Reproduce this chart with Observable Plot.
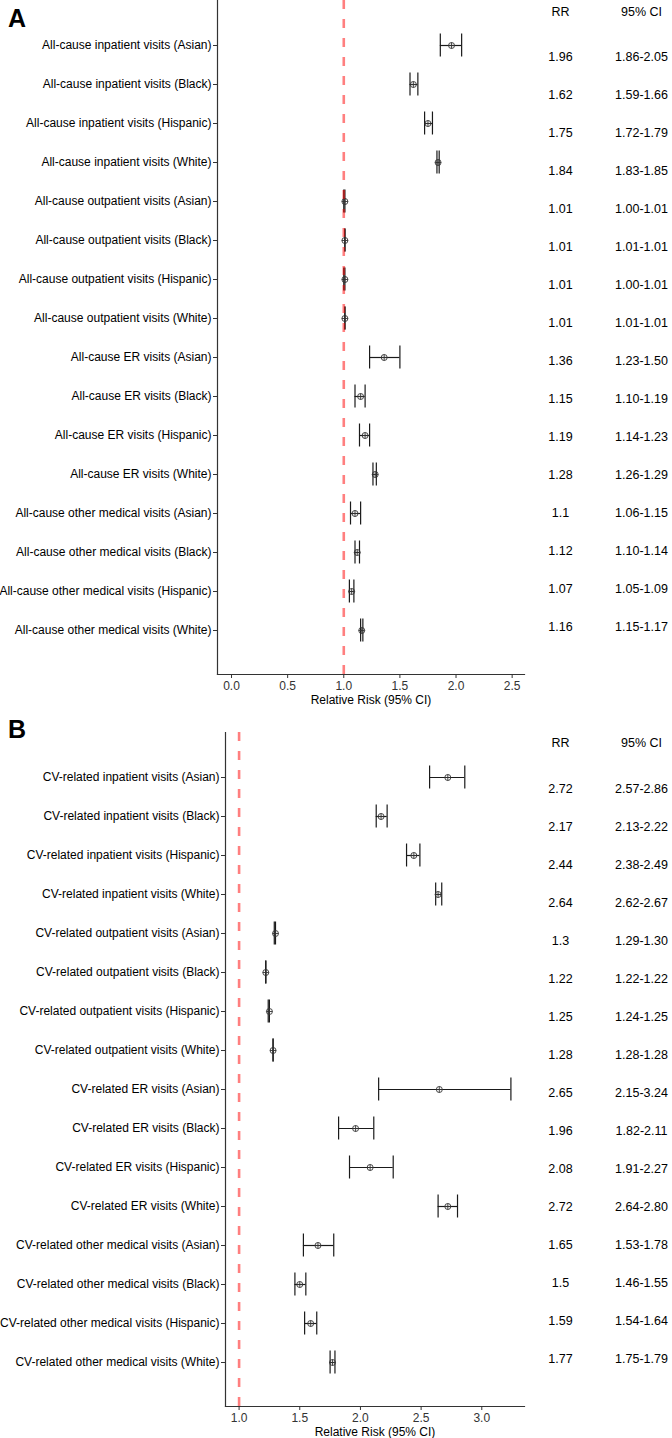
<!DOCTYPE html>
<html><head><meta charset="utf-8">
<script src="https://cdn.jsdelivr.net/npm/d3@7"></script>
<script src="https://cdn.jsdelivr.net/npm/@observablehq/plot@0.6"></script>
<style>
body{margin:0;background:#fff;}
#root{position:relative;width:672px;height:1438px;font-family:"Liberation Sans",Arial,sans-serif;}
.abs{position:absolute;}
.tag{position:absolute;font-weight:bold;font-size:25px;line-height:25px;color:#000;}
</style></head><body><div id="root"></div>
<script>
const FONT = '"Liberation Sans", Arial, sans-serif';

// Panel A data
const labelsA = [
  "All-cause inpatient visits (Asian)", "All-cause inpatient visits (Black)",
  "All-cause inpatient visits (Hispanic)", "All-cause inpatient visits (White)",
  "All-cause outpatient visits (Asian)", "All-cause outpatient visits (Black)",
  "All-cause outpatient visits (Hispanic)", "All-cause outpatient visits (White)",
  "All-cause ER visits (Asian)", "All-cause ER visits (Black)",
  "All-cause ER visits (Hispanic)", "All-cause ER visits (White)",
  "All-cause other medical visits (Asian)", "All-cause other medical visits (Black)",
  "All-cause other medical visits (Hispanic)", "All-cause other medical visits (White)"
];
const rrA = [1.96, 1.62, 1.75, 1.84, 1.01, 1.01, 1.01, 1.01, 1.36, 1.15, 1.19, 1.28, 1.1, 1.12, 1.07, 1.16];
const loA = [1.86, 1.59, 1.72, 1.83, 1.00, 1.01, 1.00, 1.01, 1.23, 1.10, 1.14, 1.26, 1.06, 1.10, 1.05, 1.15];
const hiA = [2.05, 1.66, 1.79, 1.85, 1.01, 1.01, 1.01, 1.01, 1.50, 1.19, 1.23, 1.29, 1.15, 1.14, 1.09, 1.17];
const ticksA = [0, 0.5, 1, 1.5, 2, 2.5];

// Panel B data
const labelsB = [
  "CV-related inpatient visits (Asian)", "CV-related inpatient visits (Black)",
  "CV-related inpatient visits (Hispanic)", "CV-related inpatient visits (White)",
  "CV-related outpatient visits (Asian)", "CV-related outpatient visits (Black)",
  "CV-related outpatient visits (Hispanic)", "CV-related outpatient visits (White)",
  "CV-related ER visits (Asian)", "CV-related ER visits (Black)",
  "CV-related ER visits (Hispanic)", "CV-related ER visits (White)",
  "CV-related other medical visits (Asian)", "CV-related other medical visits (Black)",
  "CV-related other medical visits (Hispanic)", "CV-related other medical visits (White)"
];
const rrB = [2.72, 2.17, 2.44, 2.64, 1.3, 1.22, 1.25, 1.28, 2.65, 1.96, 2.08, 2.72, 1.65, 1.5, 1.59, 1.77];
const loB = [2.57, 2.13, 2.38, 2.62, 1.29, 1.22, 1.24, 1.28, 2.15, 1.82, 1.91, 2.64, 1.53, 1.46, 1.54, 1.75];
const hiB = [2.86, 2.22, 2.49, 2.67, 1.30, 1.22, 1.25, 1.28, 3.24, 2.11, 2.27, 2.80, 1.78, 1.55, 1.64, 1.79];
const ticksB = [1, 1.5, 2, 2.5, 3];

const headers = [{k: "RR", t: "RR"}, {k: "CI", t: "95% CI"}];

function panel({labels, rr, lo, hi, domain, ticks, marginLeft, height, marginTop, marginBottom}) {
  const rows = labels.map((label, i) => ({label, rr: rr[i], lo: lo[i], hi: hi[i]}));
  const ink = "#1a1a1a";
  const cap = {y1: "label", y2: "label", insetTop: -11.5, insetBottom: -11.5, stroke: ink, strokeWidth: 1.2};
  return Plot.plot({
    width: 672, height, marginLeft, marginRight: 148, marginTop, marginBottom,
    style: {fontFamily: FONT, fontSize: "12px", color: "#000", background: "transparent"},
    x: {domain},
    y: {type: "point", domain: labels, padding: 1.075},
    marks: [
      Plot.frame({anchor: "left", stroke: "#333", strokeWidth: 1.2}),
      Plot.frame({anchor: "bottom", stroke: "#333", strokeWidth: 1.2}),
      Plot.axisY({tickSize: 4, tickPadding: 2, fontSize: 12, label: null, stroke: "#333", fill: "#000"}),
      Plot.axisX({ticks, tickFormat: d3.format(".1f"), tickSize: 4, tickPadding: 3, fontSize: 12, label: null, stroke: "#333", fill: "#333"}),
      Plot.ruleY(rows, {y: "label", x1: "lo", x2: "hi", stroke: ink, strokeWidth: 1.2}),
      Plot.ruleX(rows, {x: "lo", ...cap}),
      Plot.ruleX(rows, {x: "hi", ...cap}),
      Plot.dot(rows, {x: "rr", y: "label", r: 3, stroke: "#333", fill: "none", strokeWidth: 0.9}),
      Plot.dot(rows, {x: "rr", y: "label", r: 2.1, symbol: "plus", stroke: "#333", strokeWidth: 0.9}),
      Plot.ruleX([1], {stroke: "red", strokeOpacity: 0.5, strokeWidth: 2.6, strokeDasharray: "9,10"}),
      Plot.text(["Relative Risk (95% CI)"], {text: d => d, frameAnchor: "bottom", dy: 26, lineAnchor: "middle", fontSize: 12, fill: "#000"})
    ]
  });
}

function table({labels, rr, lo, hi, height, rowRange, headerY}) {
  const rows = labels.map((label, i) => ({
    label, rr: String(rr[i]), ci: lo[i].toFixed(2) + "-" + hi[i].toFixed(2)
  }));
  return Plot.plot({
    width: 148, height, margin: 0,
    style: {fontFamily: FONT, background: "transparent", color: "#000"},
    x: {type: "point", domain: ["RR", "CI"], range: [36, 117], padding: 0, axis: null},
    y: {type: "point", domain: labels, range: rowRange, padding: 0, axis: null},
    marks: [
      Plot.text(rows, {x: () => "RR", y: "label", text: "rr", fontSize: 12.5, fill: "#000"}),
      Plot.text(rows, {x: () => "CI", y: "label", text: "ci", fontSize: 12.5, fill: "#000"}),
      Plot.text(headers, {x: "k", text: "t", frameAnchor: "top", dy: headerY, fontSize: 12.5, fill: "#000"})
    ]
  });
}

const root = document.getElementById("root");
function place(node, left, top) {
  node.classList.add("abs");
  node.style.left = left + "px";
  node.style.top = top + "px";
  root.appendChild(node);
}

place(panel({labels: labelsA, rr: rrA, lo: loA, hi: hiA, domain: [-0.125, 2.61], ticks: ticksA,
  marginLeft: 217, height: 716, marginTop: 0, marginBottom: 42}), 0, 0);
place(table({labels: labelsA, rr: rrA, lo: loA, hi: hiA, height: 674, rowRange: [50, 632], headerY: 7}), 524, 0);

place(panel({labels: labelsB, rr: rrB, lo: loB, hi: hiB, domain: [0.888, 3.352], ticks: ticksB,
  marginLeft: 225, height: 722, marginTop: 16, marginBottom: 32}), 0, 716);
place(table({labels: labelsB, rr: rrB, lo: loB, hi: hiB, height: 690, rowRange: [67, 647], headerY: 22}), 524, 716);

for (const [t, top] of [["A", 5.5], ["B", 717]]) {
  const d = document.createElement("div");
  d.className = "tag";
  d.textContent = t;
  d.style.left = "8px";
  d.style.top = top + "px";
  root.appendChild(d);
}
</script></body></html>
